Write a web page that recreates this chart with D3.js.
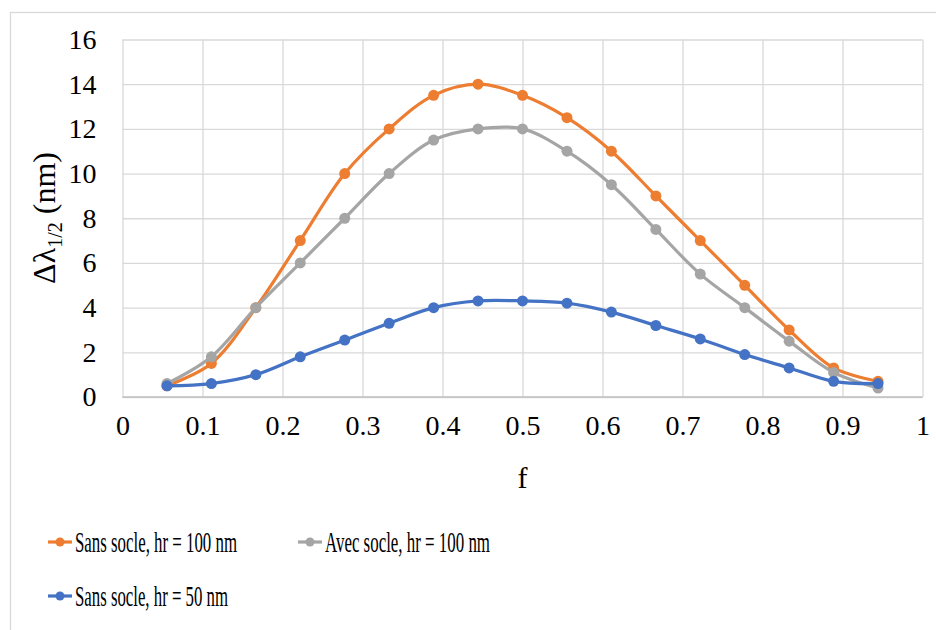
<!DOCTYPE html>
<html>
<head>
<meta charset="utf-8">
<script src="https://cdn.jsdelivr.net/npm/d3@7"></script>
<style>
  body { margin: 0; background: #fff; }
  .grille line { stroke: #d9d9d9; stroke-width: 1.3; }
  .grille path { display: none; }
  .eixo path, .eixo line { display: none; }
</style>
</head>
<body>
<svg id="grafico"></svg>
<script>
const fValores = [0.0556, 0.1111, 0.1667, 0.2222, 0.2778, 0.3333, 0.3889, 0.4444, 0.5,
  0.5556, 0.6111, 0.6667, 0.7222, 0.7778, 0.8333, 0.8889, 0.9444];
const sansSocle100 = [0.5, 1.5, 4, 7, 10, 12, 13.5, 14, 13.5, 12.5, 11, 9, 7, 5, 3, 1.3, 0.7];
const avecSocle100 = [0.6, 1.8, 4, 6, 8, 10, 11.5, 12, 12, 11, 9.5, 7.5, 5.5, 4, 2.5, 1.1, 0.4];
const sansSocle50 = [0.5, 0.6, 1.0, 1.8, 2.55, 3.3, 4.0, 4.3, 4.3, 4.2, 3.8, 3.2, 2.6, 1.9, 1.3, 0.7, 0.6];
const series = ['Sans socle, hr = 100 nm', 'Avec socle, hr = 100 nm', 'Sans socle, hr = 50 nm'];
const cores = ['#ED7D31', '#A5A5A5', '#4472C4'];
const ticksX = [0, 0.1, 0.2, 0.3, 0.4, 0.5, 0.6, 0.7, 0.8, 0.9, 1];
const ticksY = [0, 2, 4, 6, 8, 10, 12, 14, 16];

const fonte = 'Liberation Serif';
const largura = 936, altura = 630;
const margem = { esquerda: 122.5, direita: 13.5, superior: 39.5, inferior: 233 };
const larguraPlotagem = largura - margem.esquerda - margem.direita;
const alturaPlotagem = altura - margem.superior - margem.inferior;

const svg = d3.select('#grafico').attr('width', largura).attr('height', altura)
  .attr('font-family', fonte);

svg.append('rect')
  .attr('x', 10.5).attr('y', 12.5)
  .attr('width', 940).attr('height', 640)
  .attr('fill', 'none').attr('stroke', '#d9d9d9').attr('stroke-width', 1.3);

const plotagem = svg.append('g').attr('transform', `translate(${margem.esquerda}, ${margem.superior})`);

const x = d3.scaleLinear().domain([0, 1]).range([0, larguraPlotagem]);
const y = d3.scaleLinear().domain([0, 16]).range([alturaPlotagem, 0]);

// grade
plotagem.append('g').classed('grille', true)
  .call(d3.axisLeft(y).tickValues(ticksY).tickSize(-larguraPlotagem).tickFormat(''));
plotagem.append('g').classed('grille', true)
  .attr('transform', `translate(0, ${alturaPlotagem})`)
  .call(d3.axisBottom(x).tickValues(ticksX).tickSize(-alturaPlotagem).tickFormat(''));
plotagem.append('line')
  .attr('x1', 0).attr('x2', larguraPlotagem)
  .attr('y1', alturaPlotagem).attr('y2', alturaPlotagem)
  .attr('stroke', '#bfbfbf').attr('stroke-width', 1.3);

// eixos
plotagem.append('g').classed('eixo', true)
  .attr('transform', `translate(0, ${alturaPlotagem})`)
  .call(d3.axisBottom(x).tickValues(ticksX).tickSize(0).tickPadding(18).tickFormat(d => String(d)));
plotagem.append('g').classed('eixo', true)
  .call(d3.axisLeft(y).tickValues(ticksY).tickSize(0).tickPadding(26).tickFormat(d => String(d)));
plotagem.selectAll('.eixo')
  .attr('font-family', fonte).attr('font-size', 28)
  .selectAll('text').attr('fill', '#000');

// rótulos dos eixos
svg.append('text')
  .attr('x', x(0.5) + margem.esquerda).attr('y', 488)
  .attr('text-anchor', 'middle').attr('font-size', 30)
  .text('f');

const rotuloY = svg.append('text')
  .attr('transform', 'translate(55, 218) rotate(-90)')
  .attr('text-anchor', 'middle').attr('font-size', 32);
rotuloY.append('tspan').text('Δλ');
rotuloY.append('tspan').attr('dy', 7).attr('font-size', 20).text('1/2');
rotuloY.append('tspan').attr('dy', -7).text(' (nm)');

// séries
const dados = [sansSocle100, avecSocle100, sansSocle50];
const linha = d3.line()
  .x((d, i) => x(fValores[i]))
  .y(d => y(d))
  .curve(d3.curveCatmullRom.alpha(0.5));

dados.forEach((serie, s) => {
  plotagem.append('path')
    .datum(serie)
    .attr('d', linha)
    .attr('fill', 'none')
    .attr('stroke', cores[s])
    .attr('stroke-width', 3.2)
    .attr('stroke-linejoin', 'round');
  plotagem.selectAll('.ponto' + s)
    .data(serie)
    .enter()
    .append('circle')
    .classed('ponto' + s, true)
    .attr('cx', (d, i) => x(fValores[i]))
    .attr('cy', d => y(d))
    .attr('r', 5.5)
    .attr('fill', cores[s]);
});

// legenda: texto estreito e alto, como no original
const posLegenda = [[48, 542], [298, 542], [48, 596]];
const largTexto = [162, 165, 153];
series.forEach((nome, s) => {
  const g = svg.append('g').attr('transform', `translate(${posLegenda[s][0]}, ${posLegenda[s][1]})`);
  g.append('line').attr('x1', 0).attr('x2', 24).attr('y1', 0).attr('y2', 0)
    .attr('stroke', cores[s]).attr('stroke-width', 3.2);
  g.append('circle').attr('cx', 12).attr('cy', 0).attr('r', 4.5).attr('fill', cores[s]);
  g.append('text')
    .attr('transform', 'translate(27, 10) scale(1, 1.6)')
    .attr('font-size', 18)
    .attr('textLength', largTexto[s])
    .attr('lengthAdjust', 'spacingAndGlyphs')
    .text(nome);
});
</script>
</body>
</html>
